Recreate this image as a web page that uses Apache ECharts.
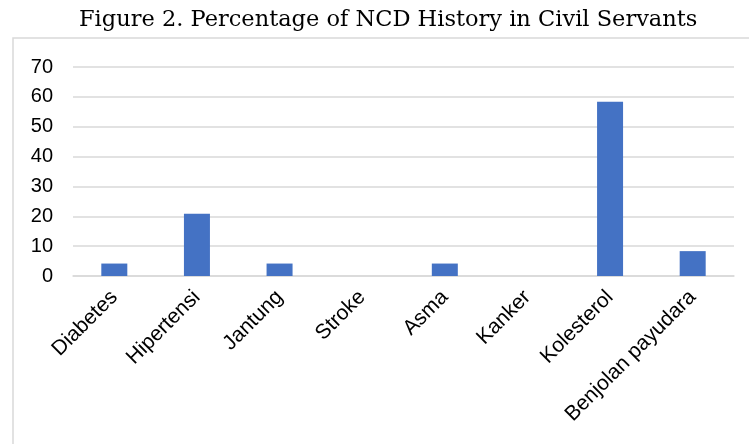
<!DOCTYPE html>
<html>
<head>
<meta charset="utf-8">
<script src="https://cdn.jsdelivr.net/npm/echarts@6/dist/echarts.min.js"></script>
<style>
  html, body { margin: 0; padding: 0; background: #fff; }
  #chart { width: 749px; height: 444px; }
</style>
</head>
<body>
<div id="chart"></div>
<script>
// data
var categories = ['Diabetes', 'Hipertensi', 'Jantung', 'Stroke', 'Asma', 'Kanker', 'Kolesterol', 'Benjolan payudara'];
var percentages = [4.17, 20.83, 4.17, 0, 4.17, 0, 58.33, 8.33];
var yTicks = [0, 10, 20, 30, 40, 50, 60, 70];

var chart = echarts.init(document.getElementById('chart'));
chart.setOption({
  animation: false,
  title: {
    text: 'Figure 2. Percentage of NCD History in Civil Servants',
    left: 74,
    top: 4,
    textStyle: {
      fontFamily: '"DejaVu Serif", serif',
      fontWeight: 'normal',
      fontSize: 22.5,
      color: '#000'
    }
  },
  graphic: [{
    type: 'rect',
    shape: { x: 13, y: 38, width: 760, height: 420 },
    style: { fill: 'none', stroke: '#d9d9d9', lineWidth: 1.5 },
    silent: true
  }],
  grid: { left: 73, right: 15, top: 67, bottom: 168 },
  xAxis: {
    type: 'category',
    data: categories,
    axisLine: { lineStyle: { color: '#d9d9d9', width: 1.5 } },
    axisTick: { show: false },
    axisLabel: {
      rotate: 45,
      interval: 0,
      margin: 18,
      fontFamily: 'Arial, "Liberation Sans", sans-serif',
      fontSize: 21,
      color: '#000'
    }
  },
  yAxis: {
    type: 'value',
    min: yTicks[0],
    max: yTicks[yTicks.length - 1],
    interval: 10,
    axisLine: { show: false },
    axisTick: { show: false },
    splitLine: { lineStyle: { color: '#d9d9d9', width: 1.5 } },
    axisLabel: {
      margin: 20,
      fontFamily: 'Arial, "Liberation Sans", sans-serif',
      fontSize: 20,
      color: '#000'
    }
  },
  series: [{
    type: 'bar',
    data: percentages,
    barWidth: 26,
    itemStyle: { color: '#4472C4' }
  }]
});
</script>
</body>
</html>
